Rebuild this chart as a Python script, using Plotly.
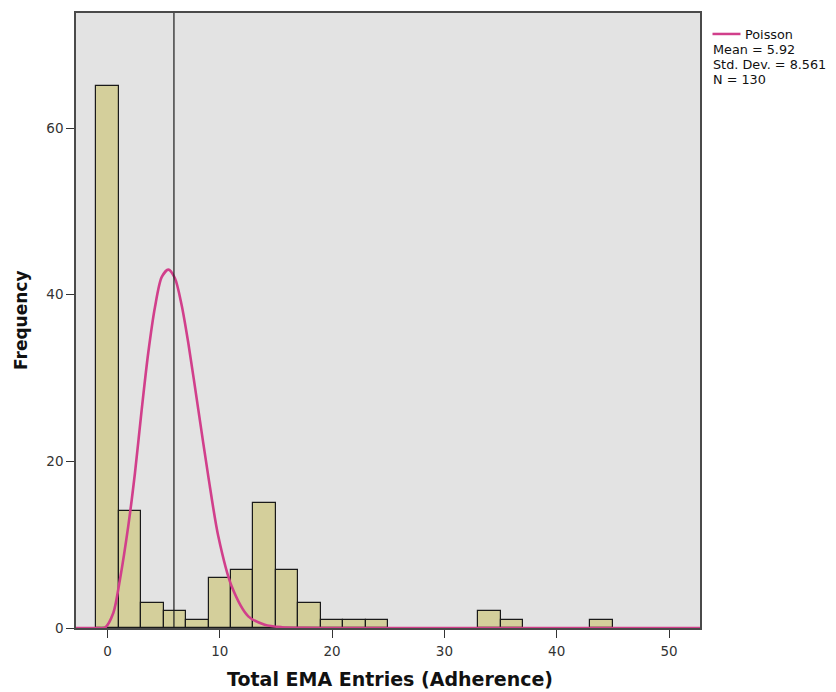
import plotly.graph_objects as go

# Histogram data (bin centres, width 2)
bin_centers = [0, 2, 4, 6, 8, 10, 12, 14, 16, 18, 20, 22, 24, 34, 36, 44]
frequencies = [65, 14, 3, 2, 1, 6, 7, 15, 7, 3, 1, 1, 1, 2, 1, 1]
bin_width = 2

# Poisson curve points
curve_x = [-2.8, -1.0, -0.22, 0.52, 1.11, 1.85, 2.45, 3.05, 3.63, 4.23, 4.83, 5.42,
           6.0, 6.6, 7.2, 8.09, 8.98, 9.87, 11.06, 12.54, 14.0, 15.5, 17.5, 20.0, 30.0, 40.0, 52.8]
curve_y = [0, 0, 0.05, 1.8, 5.8, 12.2, 18.6, 26.2, 33.0, 38.5, 42.1, 43.0,
           42.0, 38.8, 34.2, 26.2, 18.2, 11.0, 5.0, 1.4, 0.4, 0.1, 0.02, 0, 0, 0, 0]

mean_value = 5.92
std_dev = 8.561
n_total = 130

x_ticks = [0, 10, 20, 30, 40, 50]
y_ticks = [0, 20, 40, 60]

OFF = 8  # page body margin
L, R, T, B = 76 - OFF, 700 - OFF, 12.5 - OFF, 628.5 - OFF
W, H = 836 - OFF, 692 - OFF
pw, ph = R - L, B - T

def px(x):
    return (x - OFF - L) / pw

def py(y):
    return (B - (y - OFF)) / ph

fig = go.Figure()
fig.add_trace(go.Bar(
    x=bin_centers, y=frequencies, width=bin_width,
    marker=dict(color="#d4cf9b", line=dict(color="#1a1a1a", width=1.2)),
    showlegend=False, hoverinfo="x+y",
))
fig.add_trace(go.Scatter(
    x=curve_x, y=curve_y, mode="lines",
    line=dict(color="#d13f8b", width=2.6, shape="spline", smoothing=0.8),
    showlegend=False,
))

fig.add_shape(type="line", xref="x", yref="paper", x0=mean_value, x1=mean_value,
              y0=0, y1=1, line=dict(color="#1a1a1a", width=1.2), layer="above")

# legend (outside plot area)
fig.add_shape(type="line", xref="paper", yref="paper", x0=px(712.5), x1=px(740.5),
              y0=py(33.5), y1=py(33.5), line=dict(color="#d13f8b", width=2.5))
leg_font = dict(family="DejaVu Sans, Arial", size=12.8, color="#111")
fig.add_annotation(xref="paper", yref="paper", x=px(743), y=py(34.5), text="Poisson",
                   showarrow=False, xanchor="left", yanchor="middle", font=leg_font)
for txt, yy in [("Mean = %.2f" % mean_value, 49.5), ("Std. Dev. = %.3f" % std_dev, 64.5),
                ("N = %d" % n_total, 79.5)]:
    fig.add_annotation(xref="paper", yref="paper", x=px(711), y=py(yy), text=txt,
                       showarrow=False, xanchor="left", yanchor="middle", font=leg_font)

# axis titles
fig.add_annotation(xref="paper", yref="paper", x=px(389.5), y=py(680),
                   text="<b>Total EMA Entries (Adherence)</b>", showarrow=False,
                   xanchor="center", yanchor="middle",
                   font=dict(family="DejaVu Sans, Arial", size=19, color="#111"))
fig.add_annotation(xref="paper", yref="paper", x=px(21), y=py(320),
                   text="<b>Frequency</b>", showarrow=False, textangle=-90,
                   xanchor="center", yanchor="middle",
                   font=dict(family="DejaVu Sans, Arial", size=17, color="#111"))

axis_common = dict(
    showgrid=False, zeroline=False, showline=True, mirror=True,
    linecolor="#4a4a4a", linewidth=1.5, ticks="outside", ticklen=8,
    tickcolor="#333", tickwidth=1.2,
    tickfont=dict(family="DejaVu Sans, Arial", size=13.5, color="#333"),
)
fig.update_xaxes(range=[-2.8, 52.76], tickvals=x_ticks, ticklabelstandoff=2, **axis_common)
fig.update_yaxes(range=[0, 73.8], tickvals=y_ticks, **axis_common)

fig.update_layout(
    width=W, height=H,
    margin=dict(l=L, r=W - R, t=T, b=H - B, pad=0),
    plot_bgcolor="#e3e3e3", paper_bgcolor="white",
    bargap=0,
)

fig.write_html("out.html")
